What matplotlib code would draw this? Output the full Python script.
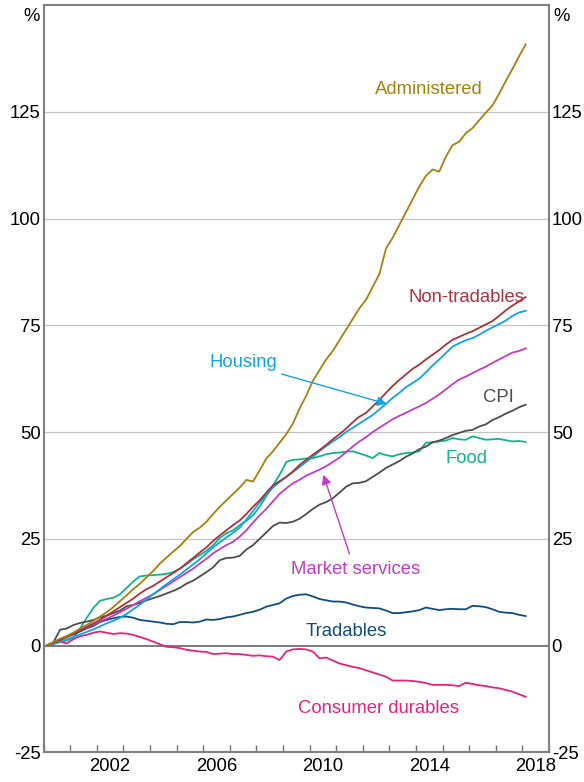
import numpy as np
import matplotlib
matplotlib.use("Agg")
import matplotlib.pyplot as plt

plt.rcParams['font.family'] = ['Liberation Sans', 'DejaVu Sans']

start_year = 2000.125
step = 0.25

administered = [0, 0.8, 1.6, 2.2, 3.0, 4.0, 4.8, 5.8, 6.8, 7.8, 9.0, 10.4,
                11.8, 13.2, 14.5, 16.0, 17.5, 19.2, 20.6, 22.0, 23.3, 25.0, 26.6, 27.6,
                29.0, 30.8, 32.5, 34.0, 35.5, 37.0, 38.8, 38.4, 41.0, 43.8, 45.5, 47.5,
                49.5, 52.0, 55.5, 58.5, 62.0, 64.5, 67.0, 69.0, 71.5, 74.0, 76.5, 79.0,
                81.0, 84.0, 87.0, 93.0, 95.5, 98.5, 101.5, 104.5, 107.5, 110.0, 111.5, 111.0,
                114.5, 117.2, 118.0, 120.0, 121.2, 123.0, 124.8, 126.5, 129.2, 132.2, 135.0, 138.0,
                140.8]
non_tradables = [0, 0.6, 1.3, 2.0, 2.8, 3.6, 4.4, 5.2, 6.0, 7.0, 8.0, 9.0,
                 10.0, 11.0, 12.2, 13.2, 14.0, 15.0, 16.0, 17.0, 18.0, 19.3, 20.5, 21.8,
                 23.0, 24.5, 25.8, 27.0, 28.2, 29.3, 30.8, 32.5, 34.0, 35.8, 37.5, 38.5,
                 39.5, 40.8, 42.3, 43.5, 44.7, 45.8, 47.0, 48.3, 49.5, 50.8, 52.3, 53.6,
                 54.5, 56.0, 57.5, 59.2, 60.8, 62.2, 63.5, 64.8, 65.8, 67.0, 68.1, 69.2,
                 70.5, 71.6, 72.3, 73.0, 73.6, 74.4, 75.2, 76.0, 77.2, 78.5, 79.6, 80.6,
                 81.6]
housing = [0, 0.4, 0.9, 1.4, 2.0, 2.6, 3.2, 3.8, 4.5, 5.2, 5.8, 6.5,
           7.4, 8.5, 9.6, 10.8, 12.0, 13.2, 14.4, 15.5, 16.6, 17.8, 19.0, 20.2,
           21.6, 23.0, 24.2, 25.3, 26.4, 27.6, 29.5, 31.5, 33.5, 35.3, 37.0, 38.3,
           39.5, 40.6, 41.8, 43.0, 44.2, 45.5, 46.7, 47.8, 48.8, 50.0, 51.0, 52.0,
           53.0, 54.0, 55.3, 56.6, 58.0, 59.2, 60.5, 61.5, 62.5, 64.0, 65.6, 67.0,
           68.5, 70.0, 70.8, 71.5, 72.0, 72.8, 73.7, 74.5, 75.3, 76.1, 77.2, 78.0,
           78.4]
market_services = [0, 0.8, 1.5, 2.2, 3.0, 3.6, 4.2, 4.9, 5.6, 6.3, 7.0, 7.8,
                   8.6, 9.5, 10.4, 11.2, 12.0, 13.0, 14.0, 15.0, 16.0, 17.0, 18.0, 19.2,
                   20.3, 21.6, 22.6, 23.5, 24.3, 25.5, 27.0, 28.8, 30.5, 32.0, 33.8, 35.5,
                   36.8, 38.0, 38.8, 39.8, 40.5, 41.2, 42.0, 43.0, 44.0, 45.3, 46.6, 47.8,
                   48.8, 50.0, 51.0, 52.0, 53.0, 53.8, 54.5, 55.3, 56.0, 56.8, 57.8, 58.8,
                   60.0, 61.2, 62.3, 63.0, 63.8, 64.6, 65.3, 66.2, 67.0, 67.8, 68.6, 69.0,
                   69.6]
cpi = [0, 0.8, 3.7, 4.0, 4.8, 5.3, 5.6, 6.0, 6.6, 7.0, 7.6, 8.2,
       9.2, 9.5, 10.0, 10.6, 11.1, 11.6, 12.2, 12.8, 13.5, 14.5, 15.2, 16.2,
       17.2, 18.3, 20.0, 20.5, 20.6, 21.0, 22.5, 23.5, 25.0, 26.5, 28.0, 28.8,
       28.7, 29.0, 29.7, 30.8, 32.0, 33.0, 33.6, 34.5, 35.8, 37.2, 38.0, 38.1,
       38.5, 39.5, 40.5, 41.6, 42.4, 43.2, 44.2, 45.0, 46.0, 46.6, 47.6, 48.0,
       48.6, 49.3, 49.8, 50.3, 50.5, 51.3, 51.8, 52.8, 53.5, 54.3, 55.0, 55.8,
       56.4]
food = [0, 0.4, 0.8, 1.2, 1.8, 4.0, 6.5, 8.8, 10.5, 10.9, 11.2, 12.0,
        13.5, 15.0, 16.2, 16.4, 16.5, 16.6, 16.8, 17.2, 18.0, 19.0, 20.2, 21.2,
        22.2, 23.5, 25.2, 26.3, 27.0, 28.2, 29.2, 30.5, 32.5, 35.0, 37.5, 40.0,
        43.0, 43.5, 43.6, 43.8, 43.9, 44.3, 44.8, 45.1, 45.2, 45.4, 45.5, 45.0,
        44.5, 43.9, 45.1, 44.6, 44.3, 44.8, 45.1, 45.2, 45.5, 47.5, 47.6, 47.8,
        48.0, 48.6, 48.3, 48.2, 49.0, 48.6, 48.2, 48.3, 48.4, 48.1, 47.8, 47.9,
        47.7]
tradables = [0, 0.5, 1.3, 2.0, 2.6, 3.3, 4.0, 4.6, 5.5, 6.0, 6.4, 6.7,
             6.8, 6.5, 6.0, 5.8, 5.6, 5.4, 5.1, 5.0, 5.5, 5.5, 5.4, 5.6,
             6.1, 6.0, 6.2, 6.6, 6.8, 7.2, 7.6, 7.9, 8.4, 9.1, 9.5, 9.9,
             11.0, 11.6, 11.9, 12.0, 11.5, 10.9, 10.6, 10.3, 10.3, 10.1, 9.6, 9.2,
             8.9, 8.8, 8.7, 8.2, 7.6, 7.6, 7.8, 8.0, 8.3, 8.9, 8.6, 8.3,
             8.5, 8.6, 8.5, 8.5, 9.3, 9.2, 9.0, 8.5, 7.9, 7.7, 7.6, 7.2,
             6.9]
consumer_durables = [0, 0.5, 0.9, 0.5, 1.5, 2.2, 2.5, 3.0, 3.3, 3.0, 2.7, 2.9,
                     2.8, 2.5, 2.0, 1.5, 0.9, 0.3, -0.3, -0.4, -0.6, -1.0, -1.2, -1.4,
                     -1.5, -2.0, -1.9, -1.8, -2.0, -2.0, -2.2, -2.4, -2.3, -2.5, -2.6, -3.4,
                     -1.4, -0.9, -0.8, -0.9, -1.4, -3.0, -2.8, -3.5, -4.2, -4.6, -5.0, -5.3,
                     -5.8, -6.3, -6.8, -7.3, -8.2, -8.2, -8.2, -8.3, -8.5, -8.8, -9.2, -9.2,
                     -9.2, -9.3, -9.5, -8.7, -9.0, -9.3, -9.5, -9.8, -10.0, -10.4, -10.8, -11.4,
                     -12.0]

series = [
    ("Administered", administered, "#A87E0C"),
    ("Non-tradables", non_tradables, "#A8333A"),
    ("Housing", housing, "#12A3E0"),
    ("Market services", market_services, "#C23BC4"),
    ("CPI", cpi, "#4D4D4D"),
    ("Food", food, "#13B28E"),
    ("Tradables", tradables, "#104C82"),
    ("Consumer durables", consumer_durables, "#E6217F"),
]

y_ticks = [-25, 0, 25, 50, 75, 100, 125]
x_label_years = [2002, 2006, 2010, 2014, 2018]

fig = plt.figure(figsize=(5.84, 7.82), dpi=100)
ax = fig.add_axes([0.0745, 0.038, 0.8655, 0.9555])

n = len(cpi)
t = start_year + step * np.arange(n)

for yv in [25, 50, 75, 100, 125]:
    ax.axhline(yv, color="#C4C4C4", lw=0.9, zorder=1)
ax.axhline(0, color="#707070", lw=1.3, zorder=1)

draw_order = ["Food", "CPI", "Tradables", "Consumer durables", "Market services",
              "Housing", "Non-tradables", "Administered"]
lookup = {name: (vals, col) for name, vals, col in series}
for name in draw_order:
    vals, col = lookup[name]
    ax.plot(t, vals, color=col, lw=1.3, zorder=3)

ax.set_xlim(2000, 2019)
ax.set_ylim(-25, 150)

fs = 13.3

ax.set_xticks(np.arange(2000, 2020))
ax.set_xticklabels([])
ax.tick_params(axis='x', which='major', direction='in', length=5, width=1,
               color="#707070", top=False)
ax.set_xticks([y + 0.5 for y in x_label_years], minor=True)
ax.set_xticklabels([str(y) for y in x_label_years], minor=True, fontsize=fs)
ax.tick_params(axis='x', which='minor', length=0, pad=4)

ax.set_yticks(y_ticks)
ax.set_yticklabels([str(v) for v in y_ticks], fontsize=fs)
ax.tick_params(axis='y', length=0, pad=2, labelleft=True, labelright=True)

for sp in ax.spines.values():
    sp.set_color("#808080")
    sp.set_linewidth(1.5)

ax.text(-0.008, 149.4, "%", transform=ax.get_yaxis_transform(), ha="right",
        va="top", fontsize=fs)
ax.text(1.008, 149.4, "%", transform=ax.get_yaxis_transform(), ha="left",
        va="top", fontsize=fs)

ax.text(2014.48, 130.2, "Administered", color="#A87E0C", fontsize=fs, ha="center", va="center")
ax.text(2015.9, 81.6, "Non-tradables", color="#A8333A", fontsize=fs, ha="center", va="center")
ax.text(2007.5, 66.2, "Housing", color="#12A3E0", fontsize=fs, ha="center", va="center")
ax.text(2017.1, 58.1, "CPI", color="#4D4D4D", fontsize=fs, ha="center", va="center")
ax.text(2015.9, 43.8, "Food", color="#13B28E", fontsize=fs, ha="center", va="center")
ax.text(2011.75, 17.8, "Market services", color="#C23BC4", fontsize=fs, ha="center", va="center")
ax.text(2011.4, 3.3, "Tradables", color="#104C82", fontsize=fs, ha="center", va="center")
ax.text(2012.6, -14.7, "Consumer durables", color="#E6217F", fontsize=fs, ha="center", va="center")

ax.annotate("", xy=(2012.9, 56.6), xytext=(2008.95, 63.6),
            arrowprops=dict(arrowstyle="-|>", color="#12A3E0", lw=1.0,
                            mutation_scale=14, shrinkA=0, shrinkB=0))
ax.annotate("", xy=(2010.52, 40.0), xytext=(2011.5, 21.5),
            arrowprops=dict(arrowstyle="-|>", color="#C23BC4", lw=1.0,
                            mutation_scale=14, shrinkA=0, shrinkB=0))

fig.savefig("out.png", dpi=100)
